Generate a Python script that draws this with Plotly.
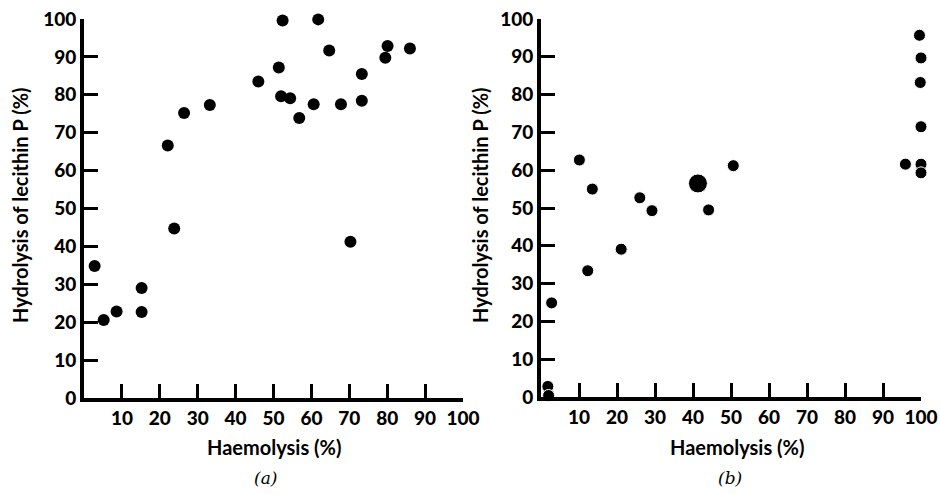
import plotly.graph_objects as go

# Panel (a) data
a_haemolysis = [52.4, 61.8, 86.0, 80.1, 79.5, 64.7, 51.4, 73.3, 46.0, 52.0, 54.4, 73.3,
                60.6, 67.8, 56.8, 33.2, 26.4, 22.1, 23.8, 70.3, 2.8, 5.2, 8.6, 15.2, 15.2]
a_hydrolysis = [99.6, 99.9, 92.2, 92.9, 89.8, 91.7, 87.2, 85.5, 83.5, 79.6, 79.1, 78.4,
                77.5, 77.5, 73.9, 77.3, 75.2, 66.6, 44.7, 41.2, 34.8, 20.6, 22.8, 29.0, 22.7]

# Panel (b) data
b_haemolysis = [99.6, 100.0, 99.8, 100.0, 95.9, 100.0, 100.0, 10.1, 13.5, 26.0, 29.2,
                41.3, 44.1, 50.6, 21.1, 12.3, 2.8, 1.8, 2.0]
b_hydrolysis = [95.7, 89.7, 83.2, 71.5, 61.6, 61.6, 59.3, 62.7, 55.0, 52.7, 49.3,
                56.5, 49.5, 61.2, 39.1, 33.4, 24.9, 2.8, 0.4]
b_size = [12, 12, 12, 12, 12, 12, 12, 12, 12, 12, 12, 19, 12, 12, 12, 12, 12, 12, 12]

x_ticks = [10, 20, 30, 40, 50, 60, 70, 80, 90, 100]
y_ticks = [0, 10, 20, 30, 40, 50, 60, 70, 80, 90, 100]

W, H = 940, 495
FONT = "Lato"

fig = go.Figure()
fig.add_trace(go.Scatter(x=a_haemolysis, y=a_hydrolysis, mode="markers",
                         marker=dict(color="black", size=12, opacity=1), cliponaxis=False,
                         xaxis="x", yaxis="y", showlegend=False))
fig.add_trace(go.Scatter(x=b_haemolysis, y=b_hydrolysis, mode="markers",
                         marker=dict(color="black", size=b_size, opacity=1), cliponaxis=False,
                         xaxis="x2", yaxis="y2", showlegend=False))

def xd(p0, p1):
    return [p0 / W, p1 / W]

def yd(top, bottom):
    return [(H - bottom) / H, (H - top) / H]

tickfont = dict(family=FONT, size=19, color="black", weight=900)
common = dict(range=[0, 100], ticks="inside", ticklen=14, tickwidth=3,
              tickcolor="black", showline=True, linewidth=4, linecolor="black",
              showgrid=False, zeroline=False, tickfont=tickfont, automargin=False)

fig.update_layout(
    width=W, height=H,
    margin=dict(l=0, r=0, t=0, b=0),
    paper_bgcolor="white", plot_bgcolor="white",
    xaxis=dict(domain=xd(84, 463), anchor="y", tickvals=x_ticks, **common),
    yaxis=dict(domain=yd(19, 398), anchor="x", tickvals=y_ticks, **common),
    xaxis2=dict(domain=xd(541, 921), anchor="y2", tickvals=x_ticks, **common),
    yaxis2=dict(domain=yd(19, 397), anchor="x2", tickvals=y_ticks, **common),
)

titlefont = dict(family=FONT, size=20, color="black", weight="bold")
anns = [
    dict(text="Hydrolysis of lecithin P (%)", x=20 / W, y=1 - 205 / H, textangle=-90),
    dict(text="Haemolysis (%)", x=274 / W, y=1 - 447 / H),
    dict(text="Hydrolysis of lecithin P (%)", x=480 / W, y=1 - 205 / H, textangle=-90),
    dict(text="Haemolysis (%)", x=737 / W, y=1 - 447 / H),
]
for a in anns:
    fig.add_annotation(xref="paper", yref="paper", showarrow=False,
                       xanchor="center", yanchor="middle", font=titlefont, **a)

capfont = dict(family="DejaVu Serif", size=17, color="black", style="italic")
for txt, xp in (("(a)", 265), ("(b)", 730)):
    fig.add_annotation(text=txt, x=xp / W, y=1 - 478 / H, xref="paper", yref="paper",
                       xanchor="center", yanchor="middle", showarrow=False, font=capfont)

fig.write_html("out.html", config={"displayModeBar": False},
               post_script="document.body.style.margin='0';")
